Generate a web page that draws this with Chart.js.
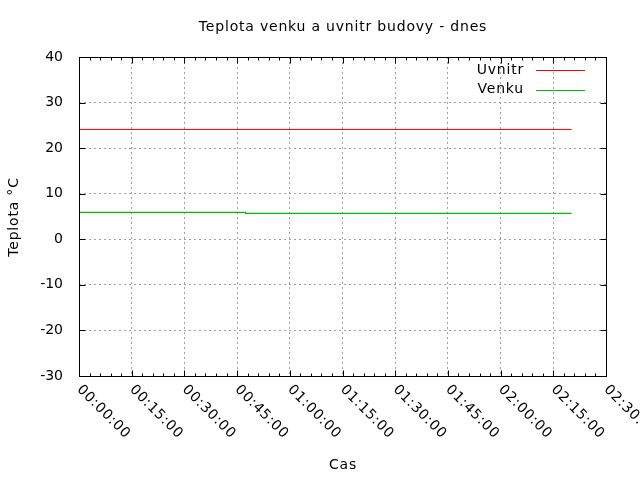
<!DOCTYPE html>
<html>
<head>
<meta charset="utf-8">
<script src="https://cdn.jsdelivr.net/npm/chart.js@4"></script>
<style>
  html, body { margin: 0; padding: 0; background: #fff; }
  #wrap { width: 640px; height: 480px; }
</style>
</head>
<body>
<div id="wrap"><canvas id="chart"></canvas></div>
<script>
// Data (time in minutes from 00:00:00, temperature in °C)
const uvnitrTimes = [0, 140.2];
const uvnitrValues = [24.1, 24.1];
const venkuTimes = [0, 47.4, 132.6, 140.2];
const venkuValues = [6.1, 5.9, 5.7, 5.7];

const xTickLabels = ['00:00:00', '00:15:00', '00:30:00', '00:45:00', '01:00:00', '01:15:00',
                     '01:30:00', '01:45:00', '02:00:00', '02:15:00', '02:30:00'];
const yTickValues = [-30, -20, -10, 0, 10, 20, 30, 40];

const FONT = '14px "DejaVu Sans", sans-serif';

const toPoints = (ts, vs) => ts.map((t, i) => ({ x: t, y: vs[i] }));

// gnuplot-like frame: box, inward ticks, rotated time labels, titles and key
const gnuplotFrame = {
    id: 'gnuplotFrame',
    afterDraw(chart) {
        const ctx = chart.ctx;
        const a = chart.chartArea;
        const xs = chart.scales.x, ys = chart.scales.y;
        const L = Math.round(a.left) + 0.5, R = Math.round(a.right) + 0.5;
        const T = Math.round(a.top) + 0.5, B = Math.round(a.bottom) + 0.5;

        ctx.save();
        ctx.strokeStyle = '#000';
        ctx.lineWidth = 1;
        ctx.setLineDash([]);
        ctx.beginPath();
        // x ticks, major every 15 min, minor every 3 min
        for (let m = 0; m <= 150; m += 3) {
            const px = Math.round(xs.getPixelForValue(m)) + 0.5;
            const len = (m % 15 === 0) ? 6 : 3;
            ctx.moveTo(px, B); ctx.lineTo(px, B - len);
            ctx.moveTo(px, T); ctx.lineTo(px, T + len);
        }
        yTickValues.forEach(v => {
            const py = Math.round(ys.getPixelForValue(v)) + 0.5;
            ctx.moveTo(L, py); ctx.lineTo(L + 6, py);
            ctx.moveTo(R, py); ctx.lineTo(R - 6, py);
        });
        ctx.stroke();
        ctx.strokeRect(L, T, R - L, B - T);

        // rotated x labels
        ctx.fillStyle = '#000';
        ctx.font = FONT;
        ctx.letterSpacing = '0.8px';
        ctx.textAlign = 'left';
        ctx.textBaseline = 'middle';
        xTickLabels.forEach((lab, i) => {
            const px = xs.getPixelForValue(i * 15);
            ctx.save();
            ctx.translate(px, B + 11);
            ctx.rotate(Math.PI / 4);
            ctx.fillText(lab, 0, 0);
            ctx.restore();
        });

        // titles
        ctx.textAlign = 'center';
        ctx.fillText('Teplota venku a uvnitr budovy - dnes', (L + R) / 2, 27);
        ctx.fillText('Cas', (L + R) / 2, 465);
        ctx.save();
        ctx.translate(14, (T + B) / 2);
        ctx.rotate(-Math.PI / 2);
        ctx.fillText('Teplota °C', 0, 0);
        ctx.restore();

        // key, top right
        ctx.textAlign = 'right';
        chart.data.datasets.forEach((ds, i) => {
            const y = 70 + i * 19.5;
            ctx.fillStyle = '#000';
            ctx.fillText(ds.label, 524, y);
            ctx.strokeStyle = ds.borderColor;
            ctx.beginPath();
            ctx.moveTo(536, Math.round(y) + 0.5);
            ctx.lineTo(585, Math.round(y) + 0.5);
            ctx.stroke();
        });
        ctx.restore();
    }
};

new Chart(document.getElementById('chart'), {
    type: 'line',
    data: {
        datasets: [{
            label: 'Uvnitr',
            data: toPoints(uvnitrTimes, uvnitrValues),
            borderColor: '#ff0000',
            borderWidth: 1,
            pointRadius: 0,
            tension: 0
        }, {
            label: 'Venku',
            data: toPoints(venkuTimes, venkuValues),
            borderColor: '#00c000',
            borderWidth: 1.3,
            pointRadius: 0,
            stepped: 'after',
            tension: 0
        }]
    },
    options: {
        responsive: true,
        maintainAspectRatio: false,
        animation: false,
        layout: { padding: { top: 57, right: 34, left: 0, bottom: 0 } },
        scales: {
            x: {
                type: 'linear',
                min: 0, max: 150,
                ticks: { stepSize: 15, display: false },
                grid: { color: '#a0a0a0', lineWidth: 1, drawTicks: false },
                border: { display: false, dash: [2, 3] },
                afterFit: s => { s.height = 104; }
            },
            y: {
                min: -30, max: 40,
                ticks: { stepSize: 10, color: '#000', padding: 16, font: { family: '"DejaVu Sans", sans-serif', size: 14 } },
                grid: { color: '#a0a0a0', lineWidth: 1, drawTicks: false },
                border: { display: false, dash: [2, 3] },
                afterFit: s => { s.width = 79; }
            }
        },
        plugins: { legend: { display: false }, tooltip: { enabled: false }, title: { display: false } }
    },
    plugins: [gnuplotFrame]
});
</script>
</body>
</html>
